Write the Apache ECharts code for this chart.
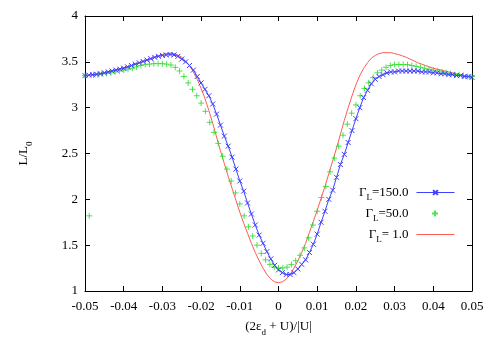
<!DOCTYPE html>
<html>
<head>
<meta charset="utf-8">
<script src="https://cdn.jsdelivr.net/npm/echarts@6/dist/echarts.min.js"></script>
<style>html,body{margin:0;padding:0;background:#fff}#c{width:500px;height:350px}</style>
</head>
<body>
<div id="c"></div>
<script>
// x tick labels and y tick labels
const xTickLabels = ['-0.05','-0.04','-0.03','-0.02','-0.01','0','0.01','0.02','0.03','0.04','0.05'];
const yTickLabels = ['1','1.5','2','2.5','3','3.5','4'];

// sample positions (x = (2εd+U)/|U|)
const xFine = Array.from({length: 101}, (_, i) => +(-0.05 + i * 0.001).toFixed(4));
const xGreen = Array.from({length: 91}, (_, i) => +(-0.05 + i * 0.1 / 90).toFixed(5));

// Γ_L = 150.0 (blue, x markers + line)
const gamma150 = [
  3.35, 3.355, 3.36, 3.365, 3.37, 3.38, 3.39, 3.40, 3.41, 3.42, 3.43, 3.445, 3.46, 3.475, 3.49, 3.505, 3.52, 3.535, 3.55, 3.56, 3.57,
  3.575, 3.58, 3.575, 3.56, 3.53, 3.50, 3.46, 3.41, 3.34, 3.27, 3.20, 3.13, 3.04, 2.93, 2.81, 2.69, 2.58, 2.46, 2.33,
  2.20, 2.09, 1.96, 1.84, 1.72, 1.61, 1.52, 1.43, 1.35, 1.28,
  1.23,
  1.20, 1.18, 1.18, 1.20, 1.24, 1.29, 1.34, 1.42, 1.51, 1.62, 1.75, 1.87, 2.00, 2.10, 2.24, 2.38,
  2.49, 2.62, 2.75, 2.88, 3.00, 3.11, 3.19, 3.26, 3.31, 3.34, 3.36, 3.38, 3.39, 3.39, 3.40, 3.40, 3.40, 3.40, 3.40, 3.40,
  3.39, 3.39, 3.39, 3.38, 3.38, 3.37, 3.37, 3.36, 3.36, 3.35, 3.35, 3.34, 3.34, 3.33
];

// Γ_L = 50.0 (green, + markers)
const gamma50 = [
  3.35, 1.82, 3.355, 3.36, 3.37, 3.375, 3.38, 3.39, 3.40, 3.41, 3.42, 3.43, 3.445, 3.46, 3.47, 3.475, 3.48, 3.48, 3.48, 3.475, 3.465,
  3.44, 3.40, 3.34, 3.27, 3.20, 3.13, 3.05, 2.96, 2.84, 2.73, 2.61,
  2.47, 2.33, 2.20, 2.07, 1.95, 1.82, 1.70, 1.60, 1.50, 1.41, 1.34, 1.29, 1.26,
  1.25,
  1.25, 1.26, 1.29, 1.33, 1.39, 1.47,
  1.58, 1.72, 1.87, 2.02, 2.14, 2.30, 2.45, 2.58, 2.70, 2.82, 2.94, 3.03, 3.13, 3.21, 3.27, 3.33, 3.38,
  3.41, 3.44, 3.46, 3.47, 3.47, 3.47, 3.47, 3.46, 3.45, 3.44, 3.43, 3.42, 3.41, 3.40, 3.39, 3.38, 3.37, 3.36, 3.36, 3.35, 3.34, 3.34
];

// Γ_L = 1.0 (red line)
const gamma1 = [
  3.35, 3.355, 3.36, 3.37, 3.375, 3.385, 3.395, 3.405, 3.415, 3.425, 3.435, 3.45, 3.46, 3.475, 3.49, 3.50, 3.52, 3.535, 3.55, 3.565, 3.58,
  3.59, 3.595, 3.59, 3.575, 3.55, 3.51, 3.46, 3.39, 3.31, 3.21, 3.10, 2.97, 2.83, 2.68, 2.53, 2.39, 2.25, 2.12, 1.99, 1.86, 1.74, 1.63, 1.52, 1.42, 1.33, 1.25, 1.18, 1.13, 1.10,
  1.09,
  1.10, 1.13, 1.18, 1.25, 1.33, 1.42, 1.52, 1.64, 1.76, 1.88, 2.01, 2.14, 2.28, 2.42, 2.56, 2.71, 2.86, 3.00, 3.13, 3.25,
  3.35, 3.43, 3.49, 3.54, 3.57, 3.59, 3.60, 3.60, 3.60, 3.59, 3.58, 3.565, 3.55, 3.53, 3.51, 3.49, 3.475, 3.46, 3.445, 3.43,
  3.42, 3.41, 3.40, 3.39, 3.38, 3.37, 3.36, 3.35, 3.34, 3.33
];

const seriesNames = ['G150', 'G50', 'G1'];
const legendLabels = ['=150.0', '=50.0', '= 1.0'];

const FONT = 'Liberation Serif';
const BLUE = '#4040ff', GREEN = '#22dd22', RED = '#ff5a5a';

const pair = (xs, ys) => ys.map((y, i) => [xs[i], y]);
const fmtX = v => { const r = Math.round(v * 100); return xTickLabels[r + 5]; };
const fmtY = v => { const r = Math.round((v - 1) * 2); return yTickLabels[r]; };

const subRich = {
  a: {fontFamily: FONT, fontSize: 13, color: '#000', lineHeight: 20},
  s: {fontFamily: FONT, fontSize: 9, color: '#000', lineHeight: 9, verticalAlign: 'bottom'}
};

function mkLegend(idx, top, right, itemWidth, textPadRight, extra) {
  return Object.assign({
    data: [seriesNames[idx]],
    orient: 'vertical', align: 'right',
    top: top, right: right, padding: 0,
    itemWidth: itemWidth, itemHeight: 6,
    selectedMode: false,
    lineStyle: {width: 1},
    formatter: () => '{a|Γ}{s|L}{a|' + legendLabels[idx] + '}',
    textStyle: {fontFamily: FONT, fontSize: 13, color: '#000', padding: [0, textPadRight, 0, 0], rich: subRich}
  }, extra || {});
}

const chart = echarts.init(document.getElementById('c'), null, {renderer: 'canvas'});
const axisCommon = {
  axisLine: {show: true, onZero: false, lineStyle: {color: '#000', width: 1}},
  axisTick: {show: true, inside: true, length: 5, lineStyle: {color: '#000'}},
  splitLine: {show: false}
};
chart.setOption({
  animation: false,
  backgroundColor: '#fff',
  grid: {left: 85, right: 28, top: 16, bottom: 59},
  legend: [
    mkLegend(0, 186, 45, 38, 3),
    mkLegend(1, 207, 61, 7, 18),
    mkLegend(2, 228, 45, 38, 3, {itemStyle: {opacity: 0}})
  ],
  xAxis: [
    Object.assign({
      type: 'value', min: -0.05, max: 0.05, interval: 0.01, position: 'bottom',
      name: '{a|(2ε}{s|d}{a| + U)/|U|}', nameLocation: 'middle', nameGap: 26,
      nameTextStyle: {rich: subRich},
      axisLabel: {fontFamily: FONT, fontSize: 13, color: '#000', margin: 9, formatter: fmtX}
    }, axisCommon),
    Object.assign({
      type: 'value', min: -0.05, max: 0.05, interval: 0.01, position: 'top',
      axisLabel: {show: false}
    }, axisCommon)
  ],
  yAxis: [
    Object.assign({
      type: 'value', min: 1, max: 4, interval: 0.5, position: 'left',
      name: '{a|L/L}{s|0}', nameLocation: 'middle', nameGap: 51, nameRotate: 90,
      nameTextStyle: {rich: subRich},
      axisLabel: {fontFamily: FONT, fontSize: 13, color: '#000', margin: 7, formatter: fmtY}
    }, axisCommon),
    Object.assign({
      type: 'value', min: 1, max: 4, interval: 0.5, position: 'right',
      axisLabel: {show: false}
    }, axisCommon)
  ],
  series: [
    {
      name: seriesNames[0], type: 'line', data: pair(xFine, gamma150),
      symbol: 'path://M0,0L10,10M10,0L0,10', symbolSize: 5, showAllSymbol: true,
      lineStyle: {color: BLUE, width: 1},
      itemStyle: {color: BLUE, borderColor: BLUE, borderWidth: 1},
      emphasis: {disabled: true}, z: 3
    },
    {
      name: seriesNames[1], type: 'scatter', data: pair(xGreen, gamma50),
      symbol: 'path://M5,0L5,10M0,5L10,5', symbolSize: 6,
      itemStyle: {color: GREEN, borderColor: GREEN, borderWidth: 1},
      emphasis: {disabled: true}, z: 2
    },
    {
      name: seriesNames[2], type: 'line', data: pair(xFine, gamma1),
      showSymbol: false, symbol: 'none',
      lineStyle: {color: RED, width: 1},
      itemStyle: {color: RED},
      emphasis: {disabled: true}, z: 1
    }
  ]
});
</script>
</body>
</html>
